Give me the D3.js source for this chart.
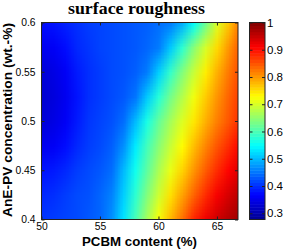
<!DOCTYPE html>
<html>
<head>
<meta charset="utf-8">
<script src="https://cdn.jsdelivr.net/npm/d3@7"></script>
<style>
  body { margin: 0; background: #fff; }
  svg { display: block; }
  text { font-family: "Liberation Sans", Arial, sans-serif; fill: #000; }
</style>
</head>
<body>
<div id="chart"></div>
<script>
// PCBM content (%) sample columns
const pcbm = [50, 51, 52, 53, 54, 55, 56, 57, 58, 59, 60, 61, 62, 63, 64, 65, 66, 67];
// AnE-PV concentration (wt.-%) sample rows, top to bottom
const concentration = [0.6, 0.575, 0.55, 0.525, 0.5, 0.475, 0.45, 0.425, 0.4];
// surface roughness, one row per concentration
const roughness = [
  [0.375, 0.38, 0.39, 0.40, 0.41, 0.415, 0.42, 0.425, 0.43, 0.435, 0.445, 0.455, 0.49, 0.55, 0.625, 0.705, 0.77, 0.83],
  [0.355, 0.36, 0.375, 0.395, 0.405, 0.415, 0.42, 0.425, 0.43, 0.44, 0.455, 0.51, 0.58, 0.645, 0.70, 0.755, 0.805, 0.85],
  [0.335, 0.345, 0.36, 0.385, 0.40, 0.41, 0.42, 0.425, 0.435, 0.455, 0.515, 0.585, 0.64, 0.69, 0.74, 0.785, 0.825, 0.86],
  [0.33, 0.34, 0.355, 0.38, 0.40, 0.41, 0.42, 0.43, 0.45, 0.51, 0.575, 0.63, 0.675, 0.72, 0.765, 0.805, 0.84, 0.87],
  [0.335, 0.345, 0.36, 0.385, 0.405, 0.415, 0.425, 0.445, 0.50, 0.565, 0.62, 0.665, 0.705, 0.745, 0.785, 0.82, 0.85, 0.88],
  [0.355, 0.36, 0.375, 0.395, 0.41, 0.42, 0.435, 0.47, 0.535, 0.595, 0.645, 0.69, 0.73, 0.775, 0.815, 0.85, 0.88, 0.91],
  [0.38, 0.385, 0.395, 0.41, 0.42, 0.43, 0.445, 0.50, 0.56, 0.615, 0.67, 0.715, 0.76, 0.805, 0.845, 0.88, 0.91, 0.935],
  [0.395, 0.40, 0.41, 0.42, 0.425, 0.44, 0.46, 0.515, 0.58, 0.64, 0.695, 0.75, 0.795, 0.84, 0.88, 0.915, 0.94, 0.96],
  [0.405, 0.41, 0.415, 0.42, 0.43, 0.44, 0.47, 0.53, 0.60, 0.665, 0.725, 0.78, 0.83, 0.885, 0.92, 0.945, 0.965, 0.98]
];
const xTicks = [50, 55, 60, 65];
const yTicks = [0.4, 0.45, 0.5, 0.55, 0.6];
const colorTicks = [0.3, 0.4, 0.5, 0.6, 0.7, 0.8, 0.9, 1];
const colorDomain = [0.277, 1];

const width = 283;
const height = 250;
const plot = { left: 41.5, right: 238, top: 22.5, bottom: 219.5 };
const bar = { left: 249.5, right: 265 };

const svg = d3.select("#chart")
  .append("svg")
  .attr("width", width)
  .attr("height", height);

const xScale = d3.scaleLinear().domain([50, 66.8]).range([plot.left, plot.right]);
const yScale = d3.scaleLinear().domain([0.4, 0.6]).range([plot.bottom, plot.top]);

// jet colormap spread over the colour domain
const jetStops = [0, 0.125, 0.375, 0.625, 0.875, 1];
const jetColors = ["#000090", "#0000ff", "#00ffff", "#ffff00", "#ff0000", "#800000"];
const color = d3.scaleLinear()
  .domain(jetStops.map(t => colorDomain[0] + t * (colorDomain[1] - colorDomain[0])))
  .range(jetColors)
  .clamp(true);

// heat map: one canvas pixel per sample, smoothed when scaled up
const canvas = document.createElement("canvas");
canvas.width = pcbm.length;
canvas.height = concentration.length;
const ctx = canvas.getContext("2d");
const img = ctx.createImageData(canvas.width, canvas.height);
roughness.forEach((row, j) => {
  row.forEach((v, i) => {
    const c = d3.rgb(color(v));
    const k = (j * canvas.width + i) * 4;
    img.data[k] = c.r;
    img.data[k + 1] = c.g;
    img.data[k + 2] = c.b;
    img.data[k + 3] = 255;
  });
});
ctx.putImageData(img, 0, 0);

svg.append("clipPath")
  .attr("id", "plot-clip")
  .append("rect")
  .attr("x", plot.left)
  .attr("y", plot.top)
  .attr("width", plot.right - plot.left)
  .attr("height", plot.bottom - plot.top);

const dx = (pcbm[1] - pcbm[0]) / 2;
const dy = (concentration[0] - concentration[1]) / 2;
svg.append("image")
  .attr("clip-path", "url(#plot-clip)")
  .attr("href", canvas.toDataURL())
  .attr("preserveAspectRatio", "none")
  .attr("x", xScale(pcbm[0] - dx))
  .attr("y", yScale(concentration[0] + dy))
  .attr("width", xScale(pcbm[pcbm.length - 1] + dx) - xScale(pcbm[0] - dx))
  .attr("height", yScale(concentration[concentration.length - 1] - dy) - yScale(concentration[0] + dy));

// axes with inward ticks
const tickLen = 3;
const styleAxis = g => {
  g.select(".domain").remove();
  g.selectAll(".tick line").attr("stroke", "#222");
  g.selectAll(".tick text").style("font-size", "10.3px");
};

svg.append("g")
  .attr("transform", `translate(0,${plot.bottom})`)
  .call(d3.axisBottom(xScale).tickValues(xTicks).tickSize(-tickLen).tickPadding(3).tickFormat(d3.format("d")))
  .call(styleAxis);

svg.append("g")
  .attr("transform", `translate(0,${plot.top})`)
  .call(d3.axisTop(xScale).tickValues(xTicks).tickSize(-tickLen).tickFormat(""))
  .call(styleAxis);

svg.append("g")
  .attr("transform", `translate(${plot.left},0)`)
  .call(d3.axisLeft(yScale).tickValues(yTicks).tickSize(-tickLen).tickPadding(6).tickFormat(d => d3.format("")(d)))
  .call(styleAxis);

svg.append("g")
  .attr("transform", `translate(${plot.right},0)`)
  .call(d3.axisRight(yScale).tickValues(yTicks).tickSize(-tickLen).tickFormat(""))
  .call(styleAxis);

svg.append("rect")
  .attr("x", plot.left)
  .attr("y", plot.top)
  .attr("width", plot.right - plot.left)
  .attr("height", plot.bottom - plot.top)
  .attr("fill", "none")
  .attr("stroke", "#222")
  .attr("stroke-width", 1);

// colour bar
const cScale = d3.scaleLinear().domain(colorDomain).range([plot.bottom, plot.top]);
const nBands = 64;
const bandStep = (colorDomain[1] - colorDomain[0]) / nBands;
svg.append("g")
  .selectAll("rect")
  .data(d3.range(nBands))
  .join("rect")
  .attr("x", bar.left)
  .attr("width", bar.right - bar.left)
  .attr("y", i => cScale(colorDomain[0] + (i + 1) * bandStep))
  .attr("height", i => cScale(colorDomain[0] + i * bandStep) - cScale(colorDomain[0] + (i + 1) * bandStep) + 0.5)
  .attr("fill", i => color(colorDomain[0] + (i + 0.5) * bandStep));

svg.append("g")
  .attr("transform", `translate(${bar.right},0)`)
  .call(d3.axisRight(cScale).tickValues(colorTicks).tickSize(-tickLen).tickPadding(2)
    .tickFormat(d => d === 1 ? "1" : d3.format(".1f")(d)))
  .call(styleAxis)
  .call(g => g.selectAll(".tick text").style("font-size", "11.5px"));

svg.append("g")
  .attr("transform", `translate(${bar.left},0)`)
  .call(d3.axisLeft(cScale).tickValues(colorTicks).tickSize(-tickLen).tickFormat(""))
  .call(styleAxis);

svg.append("rect")
  .attr("x", bar.left)
  .attr("y", plot.top)
  .attr("width", bar.right - bar.left)
  .attr("height", plot.bottom - plot.top)
  .attr("fill", "none")
  .attr("stroke", "#222")
  .attr("stroke-width", 1);

// labels
svg.append("text")
  .attr("x", 136.5)
  .attr("y", 14)
  .attr("text-anchor", "middle")
  .attr("textLength", 137)
  .attr("lengthAdjust", "spacingAndGlyphs")
  .style("font-family", "'Liberation Serif', 'Times New Roman', serif")
  .style("font-weight", "bold")
  .style("font-size", "17px")
  .text("surface roughness");

svg.append("text")
  .attr("x", 139.5)
  .attr("y", 245.5)
  .attr("text-anchor", "middle")
  .attr("textLength", 115)
  .attr("lengthAdjust", "spacingAndGlyphs")
  .style("font-weight", "bold")
  .style("font-size", "13px")
  .text("PCBM content (%)");

svg.append("text")
  .attr("transform", `translate(11.5,120) rotate(-90)`)
  .attr("text-anchor", "middle")
  .attr("textLength", 194)
  .attr("lengthAdjust", "spacingAndGlyphs")
  .style("font-weight", "bold")
  .style("font-size", "13px")
  .text("AnE-PV concentration (wt.-%)");
</script>
</body>
</html>
